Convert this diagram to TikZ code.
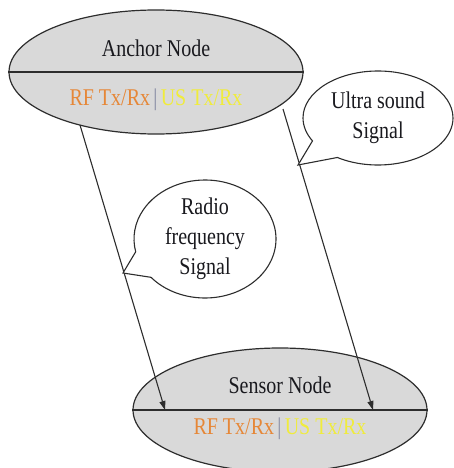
\documentclass[tikz,border=0pt]{standalone}
\usepackage{fontspec}
\setmainfont{Liberation Serif}
\usetikzlibrary{shapes.geometric,shapes.callouts,arrows.meta}
\definecolor{fillgray}{RGB}{217,217,217}
\definecolor{rfcol}{RGB}{230,135,55}
\definecolor{uscol}{RGB}{240,236,60}
\definecolor{barcol}{RGB}{130,135,160}
\definecolor{txtcol}{RGB}{25,25,30}
\definecolor{linecol}{RGB}{45,45,45}
\newcommand\tallt[1]{\scalebox{1}[1.2]{#1}}
\begin{document}
\begin{tikzpicture}[x=1pt,y=-1pt,
  every node/.style={font=\fontsize{20}{30}\selectfont, text=txtcol},
  nodeell/.style={ellipse, draw=linecol, line width=1.2pt, fill=fillgray, minimum width=294pt, minimum height=124pt, inner sep=0pt},
  bubble/.style={ellipse callout, draw=linecol, line width=1.1pt, fill=white, inner sep=0pt, align=center, callout pointer arc=28},
  sig/.style={draw=linecol, line width=1.1pt, -{Triangle[length=9pt,width=6pt]}}
]
\useasboundingbox (0,0) rectangle (454,468);
% anchor node
\node[nodeell] (anc) at (156,72) {};
\draw[line width=1.4pt, linecol] (anc.west) -- (anc.east);
\node (anctitle) at (156,48) {\tallt{Anchor Node}};
\node (ancrf) at (156,100) {\tallt{\textcolor{rfcol}{RF Tx/Rx}\,\textcolor{barcol}{|}\,\textcolor{uscol}{US Tx/Rx}}};
% sensor node
\node[nodeell] (sen) at (280,410) {};
\draw[line width=1.4pt, linecol] (sen.west) -- (sen.east);
\node (sentitle) at (280,385) {\tallt{Sensor Node}};
\node (senrf) at (280,429) {\tallt{\textcolor{rfcol}{RF Tx/Rx}\,\textcolor{barcol}{|}\,\textcolor{uscol}{US Tx/Rx}}};
% signal start/end points
\coordinate (rfs) at (80,125);
\coordinate (rfe) at (165,410);
\coordinate (uss) at (283,109);
\coordinate (use) at (373,410);
\draw[sig] (rfs) -- (rfe);
\draw[sig] (uss) -- (use);
% callouts
\coordinate (uptr) at (298,165);
\node[bubble, minimum width=150pt, minimum height=94pt, callout absolute pointer=(uptr)] (ultra) at (378,118) {\tallt{Ultra sound}\\\tallt{Signal}};
\coordinate (rptr) at (123,273);
\node[bubble, minimum width=142pt, minimum height=118pt, callout absolute pointer=(rptr)] (radio) at (205,239) {\tallt{Radio}\\\tallt{frequency}\\\tallt{Signal}};
\end{tikzpicture}
\end{document}
